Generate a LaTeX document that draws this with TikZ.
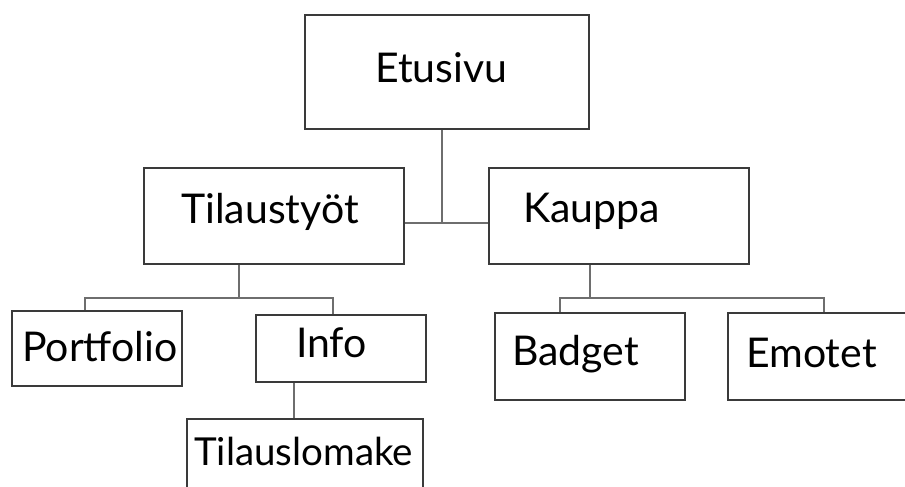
\documentclass[tikz,border=0pt]{standalone}
\usepackage{fontspec}
\setmainfont{Lato}
\begin{document}
\begin{tikzpicture}[x=1pt,y=-1pt,
  box/.style={draw=boxgray,line width=1.6pt,rectangle,inner sep=0pt},
  lbl/.style={anchor=base west,inner sep=0pt,font=\fontsize{41}{41}\selectfont},
  smalllbl/.style={lbl,font=\fontsize{38.5}{38.5}\selectfont},
  conn/.style={draw=linegray,line width=1.6pt}]
\definecolor{boxgray}{HTML}{3A3A3A}
\definecolor{linegray}{HTML}{6E6E6E}
\useasboundingbox (0,0) rectangle (905,487);
\clip (0,0) rectangle (905,487);
% boxes
\node[box,minimum width=284pt,minimum height=114pt] (etu) at (447,72) {};
\node[box,minimum width=260pt,minimum height=96pt] (til) at (274,216) {};
\node[box,minimum width=260pt,minimum height=96pt] (kau) at (619,216) {};
\node[box,minimum width=170pt,minimum height=75pt] (por) at (97,348.5) {};
\node[box,minimum width=170pt,minimum height=67pt] (inf) at (341,348.5) {};
\node[box,minimum width=190pt,minimum height=87pt] (bad) at (590,356.5) {};
\node[box,minimum width=192pt,minimum height=87pt] (emo) at (824,356.5) {};
\node[box,minimum width=236pt,minimum height=91pt] (tlo) at (305,464.5) {};
% labels
\node[lbl] (tetu) at (375,82) {Etusivu};
\node[lbl] (ttil) at (181,223) {Tilaustyöt};
\node[lbl] (tkau) at (523,222) {Kauppa};
\node[lbl] (tpor) at (22,361) {Portfolio};
\node[lbl] (tinf) at (296,357) {Info};
\node[smalllbl] (ttlo) at (194,465) {Tilauslomake};
\node[lbl] (tbad) at (512,365) {Badget};
\node[lbl] (temo) at (746,367) {Emotet};
% junctions
\coordinate (j1) at (442,223);
\coordinate (j2) at (239,298);
\coordinate (j3) at (590,298);
\coordinate (pa) at (85,298);
\coordinate (pb) at (333,298);
\coordinate (pc) at (560,298);
\coordinate (pd) at (824,298);
\coordinate (j4) at (294,382);
% connectors
\draw[conn] (etu.south -| j1) -- (j1);
\draw[conn] (til.east |- j1) -- (kau.west |- j1);
\draw[conn] (til.south -| j2) -- (j2);
\draw[conn] (por.north -| pa) -- (pa) -- (pb) -- (inf.north -| pb);
\draw[conn] (inf.south -| j4) -- (tlo.north -| j4);
\draw[conn] (kau.south -| j3) -- (j3);
\draw[conn] (bad.north -| pc) -- (pc) -- (pd) -- (emo.north -| pd);
\end{tikzpicture}
\end{document}
